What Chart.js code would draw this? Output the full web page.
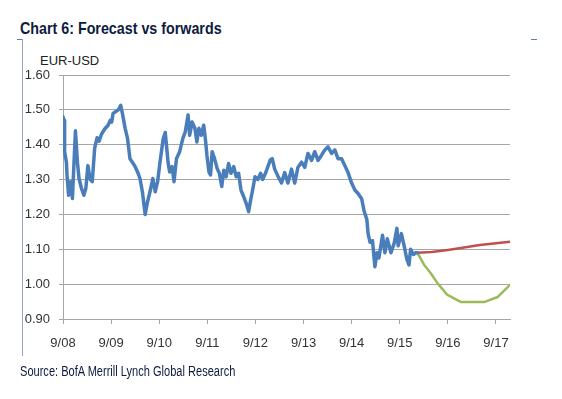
<!DOCTYPE html>
<html lang="en">
<head>
    <meta charset="UTF-8">
    <title>Chart 6: Forecast vs forwards</title>
    <script src="https://cdn.jsdelivr.net/npm/chart.js"></script>
    <style>
        body {
            margin: 0;
            padding: 0;
            background: #fff;
        }

        .wrap {
            position: relative;
            width: 562px;
            height: 399px;
            overflow: hidden;
        }

        .title {
            position: absolute;
            left: 20px;
            top: 19px;
            font-family: 'Liberation Sans', sans-serif;
            font-weight: bold;
            font-size: 17px;
            color: #0d1b3e;
            white-space: nowrap;
            transform: scaleX(0.84);
            transform-origin: left top;
        }

        .unit {
            position: absolute;
            left: 40px;
            top: 53px;
            font-family: 'Liberation Sans', sans-serif;
            font-size: 13px;
            color: #222;
        }

        .source {
            position: absolute;
            left: 20px;
            top: 363px;
            font-family: 'Liberation Sans', sans-serif;
            font-size: 14px;
            color: #0d1b3e;
            white-space: nowrap;
            transform: scaleX(0.79);
            transform-origin: left top;
        }

        /* frame bits round the chart */
        .frame-v { position: absolute; left: 22px; top: 39px; width: 1px; height: 317px; background: #98a4ba; }
        .frame-l { position: absolute; left: 17px; top: 39px; width: 5px; height: 1px; background: #5b7bbf; }
        .frame-r { position: absolute; left: 531px; top: 39px; width: 6px; height: 1px; background: #5b7bbf; }

        canvas { position: absolute; left: 0; top: 0; }
    </style>
</head>
<body>

<div class="wrap">
    <div class="frame-v"></div>
    <div class="frame-l"></div>
    <div class="frame-r"></div>
    <div class="title">Chart 6: Forecast vs forwards</div>
    <div class="unit">EUR-USD</div>
    <canvas id="fxChart" width="562" height="399"></canvas>
    <div class="source">Source: BofA Merrill Lynch Global Research</div>
</div>

<script>
    // x values are months since Sep 2008
    var xTickMonths = [0, 12, 24, 36, 48, 60, 72, 84, 96, 108];
    var xTickLabels = ["9/08", "9/09", "9/10", "9/11", "9/12", "9/13", "9/14", "9/15", "9/16", "9/17"];

    // EUR-USD spot (blue)
    var spotMonths = [0.0, 0.25, 0.4, 0.85, 1.0, 1.4, 1.9, 2.35, 3.1, 3.6, 4.0, 4.6, 5.2, 5.7, 6.2, 6.8, 7.3, 7.9, 8.5, 9.0,
        9.6, 10.4, 11.2, 11.8, 12.15, 12.5, 13.0, 13.8, 14.4, 14.9, 15.5, 16.1, 16.7, 17.3, 18.0, 18.6, 19.2, 19.8, 20.5, 21.1,
        21.7, 22.4, 23.0, 23.6, 24.2, 25.0, 25.5, 25.8, 26.2, 26.6, 27.2, 27.7, 28.3, 29.1, 29.9, 30.5, 31.2, 31.6, 32.2, 32.9,
        33.4, 33.9, 34.5, 35.1, 35.5, 35.9, 36.4, 36.8, 37.2, 37.8, 38.5, 39.0, 39.6, 40.1, 40.7, 41.3, 41.9, 42.6, 43.2, 43.8,
        44.4, 45.1, 45.7, 46.3, 46.8, 47.3, 47.9, 48.6, 49.3, 49.8, 50.5, 51.1, 51.7, 52.2, 52.8, 53.6, 54.5, 55.3, 56.1, 57.0,
        57.8, 58.6, 59.5, 60.3, 61.1, 62.0, 62.8, 63.6, 64.5, 65.3, 66.1, 67.0, 67.8, 68.6, 69.5, 70.3, 71.1, 72.0, 72.8, 73.6,
        74.5, 75.1, 75.8, 76.1, 76.6, 77.2, 77.8, 78.3, 78.8, 79.7, 80.3, 80.9, 81.8, 82.6, 83.3, 83.6, 84.4, 85.1, 85.8, 86.3,
        86.7, 87.4, 88.0, 88.4];
    var spotValues = [1.48, 1.47, 1.38, 1.35, 1.313, 1.255, 1.294, 1.246, 1.44, 1.35, 1.303, 1.275, 1.255, 1.275, 1.34, 1.30, 1.294, 1.39, 1.42, 1.41,
        1.43, 1.445, 1.455, 1.47, 1.465, 1.49, 1.494, 1.50, 1.513, 1.485, 1.447, 1.418, 1.36, 1.35, 1.337, 1.322, 1.303, 1.265, 1.20, 1.237,
        1.265, 1.303, 1.265, 1.294, 1.35, 1.418, 1.435, 1.40, 1.35, 1.322, 1.337, 1.294, 1.36, 1.38, 1.418, 1.437, 1.485, 1.427, 1.465, 1.447,
        1.408, 1.447, 1.427, 1.456, 1.418, 1.37, 1.322, 1.313, 1.38, 1.36, 1.33, 1.318, 1.28, 1.327, 1.308, 1.346, 1.318, 1.337, 1.308, 1.318,
        1.27, 1.25, 1.232, 1.208, 1.241, 1.27, 1.308, 1.30, 1.318, 1.30, 1.318, 1.337, 1.356, 1.36, 1.33, 1.31, 1.29, 1.32, 1.29, 1.33,
        1.29, 1.335, 1.35, 1.335, 1.375, 1.355, 1.38, 1.355, 1.37, 1.385, 1.394, 1.375, 1.385, 1.36, 1.36, 1.34, 1.32, 1.29, 1.27, 1.26,
        1.245, 1.21, 1.185, 1.145, 1.12, 1.125, 1.05, 1.09, 1.075, 1.14, 1.09, 1.13, 1.09, 1.117, 1.16, 1.11, 1.145, 1.11, 1.07, 1.055,
        1.10, 1.085, 1.09, 1.09];

    // forwards (red)
    var fwdMonths = [88.4, 92, 96, 100, 104, 108, 111.5];
    var fwdValues = [1.090, 1.092, 1.098, 1.105, 1.112, 1.117, 1.122];

    // forecast (green)
    var fcstMonths = [88.4, 90.1, 91.7, 93.4, 95.9, 99.2, 105.2, 108.4, 111.5];
    var fcstValues = [1.09, 1.055, 1.032, 1.003, 0.969, 0.949, 0.949, 0.963, 0.998];

    function toPoints(xs, ys) {
        var pts = [];
        for (var i = 0; i < xs.length; i++) pts.push({ x: xs[i], y: ys[i] });
        return pts;
    }

    var tickFont = { family: "'Liberation Sans', sans-serif", size: 13 };

    new Chart(document.getElementById("fxChart").getContext("2d"), {
        type: "line",
        data: {
            datasets: [
                { label: "Spot", data: toPoints(spotMonths, spotValues), borderColor: "#4a7ebb", borderWidth: 3.5 },
                { label: "Forwards", data: toPoints(fwdMonths, fwdValues), borderColor: "#c0504d", borderWidth: 2.5 },
                { label: "Forecast", data: toPoints(fcstMonths, fcstValues), borderColor: "#9bbb59", borderWidth: 2.5 }
            ]
        },
        options: {
            responsive: false,
            animation: false,
            events: [],
            elements: { point: { radius: 0 }, line: { tension: 0, borderJoinStyle: "round", borderCapStyle: "round" } },
            layout: { padding: { left: 0, right: 52, top: 75, bottom: 50 } },
            plugins: { legend: { display: false }, tooltip: { enabled: false } },
            scales: {
                x: {
                    type: "linear",
                    min: 0,
                    max: 111.5,
                    afterFit: function(scale) { scale.height = 30; },
                    afterBuildTicks: function(scale) {
                        scale.ticks = xTickMonths.map(function(v) { return { value: v }; });
                    },
                    ticks: {
                        autoSkip: false,
                        maxRotation: 0,
                        padding: 12,
                        color: "#333",
                        font: tickFont,
                        callback: function(value) {
                            var i = xTickMonths.indexOf(value);
                            return i >= 0 ? xTickLabels[i] : "";
                        }
                    },
                    grid: { drawOnChartArea: false, drawTicks: true, tickLength: 5, color: "#a6a6a6" },
                    border: { color: "#a6a6a6" }
                },
                y: {
                    min: 0.9,
                    max: 1.6,
                    afterFit: function(scale) { scale.width = 63; },
                    ticks: {
                        stepSize: 0.1,
                        padding: 9,
                        color: "#333",
                        font: tickFont,
                        callback: function(value) { return value.toFixed(2); }
                    },
                    grid: { color: "#a6a6a6", tickLength: 4 },
                    border: { color: "#a6a6a6" }
                }
            }
        }
    });
</script>

</body>
</html>
